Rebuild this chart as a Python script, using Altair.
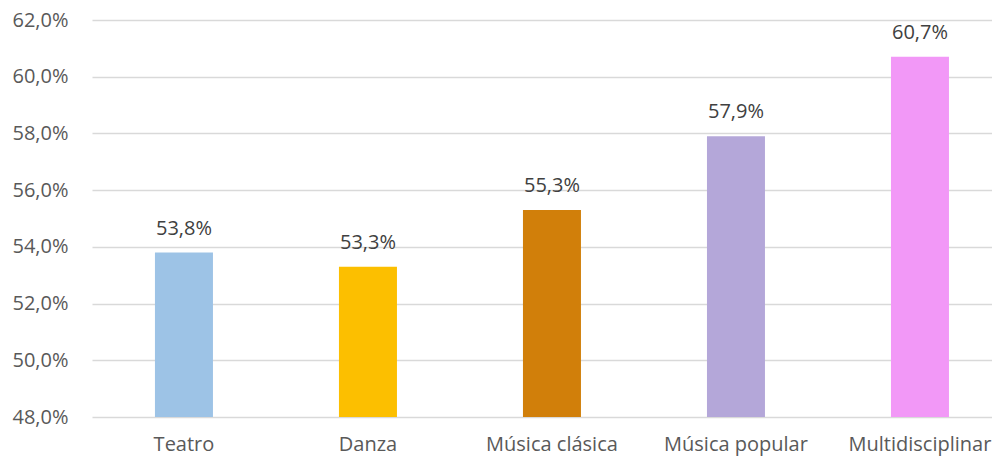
import altair as alt
import pandas as pd

categories = ["Teatro", "Danza", "Música clásica", "Música popular", "Multidisciplinar"]
values = [53.8, 53.3, 55.3, 57.9, 60.7]
colors = ["#9DC3E6", "#FCBF00", "#D17F0A", "#B4A7D9", "#F298F7"]
labels = ["53,8%", "53,3%", "55,3%", "57,9%", "60,7%"]

df = pd.DataFrame({"cat": categories, "val": values, "lab": labels, "col": colors})

FONT = "Open Sans"

x = alt.X("cat:N", sort=categories, title=None,
          scale=alt.Scale(paddingInner=0.6848, paddingOuter=0.288, align=0.594),
          axis=alt.Axis(labelAngle=0, labelFont=FONT, labelFontSize=20, labelColor="#595959",
                        labelPadding=17, ticks=False, domain=False, grid=False))
y = alt.Y("val:Q", title=None,
          scale=alt.Scale(domain=[48, 62], nice=False, zero=False),
          axis=alt.Axis(values=[48, 50, 52, 54, 56, 58, 60, 62],
                        labelExpr="replace(format(datum.value, '.1f'), '.', ',') + '%'",
                        labelFont=FONT, labelFontSize=20, labelColor="#595959",
                        labelPadding=24, ticks=False, domain=False,
                        grid=True, gridColor="#D9D9D9", gridWidth=1.3))

bars = alt.Chart(df).mark_bar(clip=True).encode(
    x=x, y=y, y2=alt.datum(48),
    color=alt.Color("col:N", scale=None, legend=None),
)

text = alt.Chart(df).mark_text(baseline="alphabetic", dy=-18, font=FONT, fontSize=20,
                               color="#404040").encode(
    x=alt.X("cat:N", sort=categories),
    y=alt.Y("val:Q"),
    text="lab:N")

chart = (bars + text).properties(
    width=900, height=397,
    background="white",
    padding={"left": 84, "top": 12, "right": 0, "bottom": 42},
    autosize=alt.AutoSizeParams(type="none"),
).configure_view(strokeWidth=0, stroke="transparent").configure_axis(domain=False)

chart.save("out.html", embed_options={"renderer": "svg", "actions": False})
